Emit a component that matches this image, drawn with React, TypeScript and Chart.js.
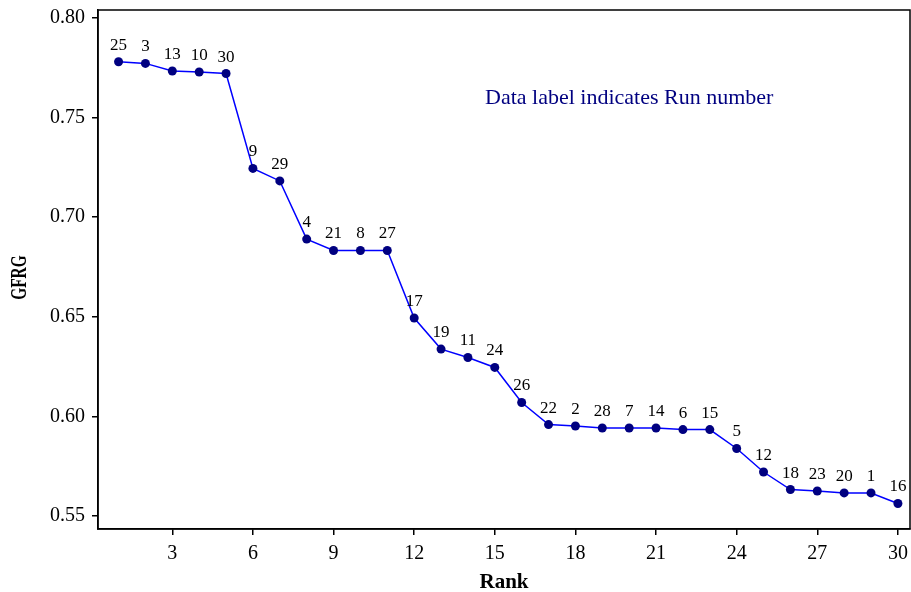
import React, { useEffect, useRef } from "react";
import { Chart, registerables } from "chart.js";

Chart.register(...registerables);

const ranks = [1, 2, 3, 4, 5, 6, 7, 8, 9, 10, 11, 12, 13, 14, 15, 16, 17, 18, 19, 20, 21, 22, 23, 24, 25, 26, 27, 28, 29, 30];
const gfrg = [0.778, 0.7772, 0.7734, 0.7729, 0.7721, 0.7245, 0.7182, 0.689, 0.6833, 0.6833, 0.6833, 0.6494, 0.6338, 0.6296, 0.6246, 0.607, 0.5959, 0.5952, 0.5942, 0.5942, 0.5942, 0.5934, 0.5934, 0.5839, 0.5721, 0.5633, 0.5626, 0.5616, 0.5616, 0.5563];
const runNumbers = [25, 3, 13, 10, 30, 9, 29, 4, 21, 8, 27, 17, 19, 11, 24, 26, 22, 2, 28, 7, 14, 6, 15, 5, 12, 18, 23, 20, 1, 16];
const xTicks = [3, 6, 9, 12, 15, 18, 21, 24, 27, 30];
const yTicks = [0.55, 0.6, 0.65, 0.7, 0.75, 0.8];
const annotation = "Data label indicates Run number";
const yTitle = "GFRG";
const xTitle = "Rank";

const FONT = "'Liberation Serif', 'Times New Roman', serif";

const labelPlugin = {
  id: "runLabels",
  afterDatasetsDraw(chart: any) {
    const ctx = chart.ctx;
    const meta = chart.getDatasetMeta(0);
    ctx.save();
    ctx.font = `17px ${FONT}`;
    ctx.fillStyle = "#000";
    ctx.textAlign = "center";
    ctx.textBaseline = "bottom";
    meta.data.forEach((pt: any, i: number) => {
      ctx.fillText(String(runNumbers[i]), pt.x, pt.y - 8);
    });
    const xs = chart.scales.x;
    const ys = chart.scales.y;
    ctx.font = `22px ${FONT}`;
    ctx.fillStyle = "#000080";
    ctx.textBaseline = "middle";
    ctx.fillText(annotation, xs.getPixelForValue(20), ys.getPixelForValue(0.7598));
    const a = chart.chartArea;
    ctx.strokeStyle = "#000";
    ctx.lineWidth = 1.5;
    ctx.strokeRect(a.left, a.top, a.right - a.left, a.bottom - a.top);
    // y title, condensed
    ctx.translate(20, ys.getPixelForValue(0.6697));
    ctx.rotate(-Math.PI / 2);
    ctx.scale(0.64, 1);
    ctx.font = `bold 24px ${FONT}`;
    ctx.fillStyle = "#000";
    ctx.textAlign = "center";
    ctx.textBaseline = "middle";
    ctx.fillText(yTitle, 0, 0);
    ctx.restore();
  },
};

export default function App() {
  const ref = useRef<HTMLCanvasElement | null>(null);
  useEffect(() => {
    if (!ref.current) return;
    const chart = new Chart(ref.current, {
      type: "line",
      data: {
        datasets: [
          {
            data: ranks.map((r, i) => ({ x: r, y: gfrg[i] })),
            borderColor: "#0000ff",
            borderWidth: 1.5,
            pointBackgroundColor: "#000080",
            pointBorderColor: "#000080",
            pointRadius: 4.5,
            pointBorderWidth: 0,
            tension: 0,
            clip: false,
          },
        ],
      },
      options: {
        animation: false,
        responsive: true,
        maintainAspectRatio: false,
        layout: { autoPadding: false, padding: { top: 10, right: 1, left: 0, bottom: 0 } },
        plugins: { legend: { display: false }, tooltip: { enabled: false } },
        scales: {
          x: {
            type: "linear",
            min: 0.235,
            max: 30.45,
            afterBuildTicks: (s: any) => {
              s.ticks = xTicks.map((v) => ({ value: v }));
            },
            afterFit: (s: any) => {
              s.height = 63;
              s.paddingLeft = 0;
              s.paddingRight = 0;
            },
            grid: { drawOnChartArea: false, drawTicks: true, tickLength: 6, color: "#000", lineWidth: 1.5 },
            border: { display: true, color: "#000", width: 1.5 },
            ticks: { color: "#000", font: { family: FONT, size: 20 }, padding: 7, maxRotation: 0, autoSkip: false },
            title: { display: true, text: xTitle, color: "#000", font: { family: FONT, size: 21, weight: "bold" }, padding: { top: 0, bottom: -3 } },
          },
          y: {
            type: "linear",
            min: 0.5435,
            max: 0.804,
            afterBuildTicks: (s: any) => {
              s.ticks = yTicks.map((v) => ({ value: v }));
            },
            afterFit: (s: any) => {
              s.width = 98;
              s.paddingTop = 0;
              s.paddingBottom = 0;
            },
            grid: { drawOnChartArea: false, drawTicks: true, tickLength: 6, color: "#000", lineWidth: 1.5 },
            border: { display: true, color: "#000", width: 1.5 },
            ticks: { color: "#000", font: { family: FONT, size: 20 }, padding: 7, autoSkip: false, callback: (v: any) => Number(v).toFixed(2) },
            title: { display: false },
          },
        },
      },
      plugins: [labelPlugin],
    });
    return () => chart.destroy();
  }, []);
  return (
    <div style={{ position: "fixed", left: 0, top: 0, width: 911, height: 592, background: "#fff" }}>
      <canvas ref={ref} />
    </div>
  );
}
